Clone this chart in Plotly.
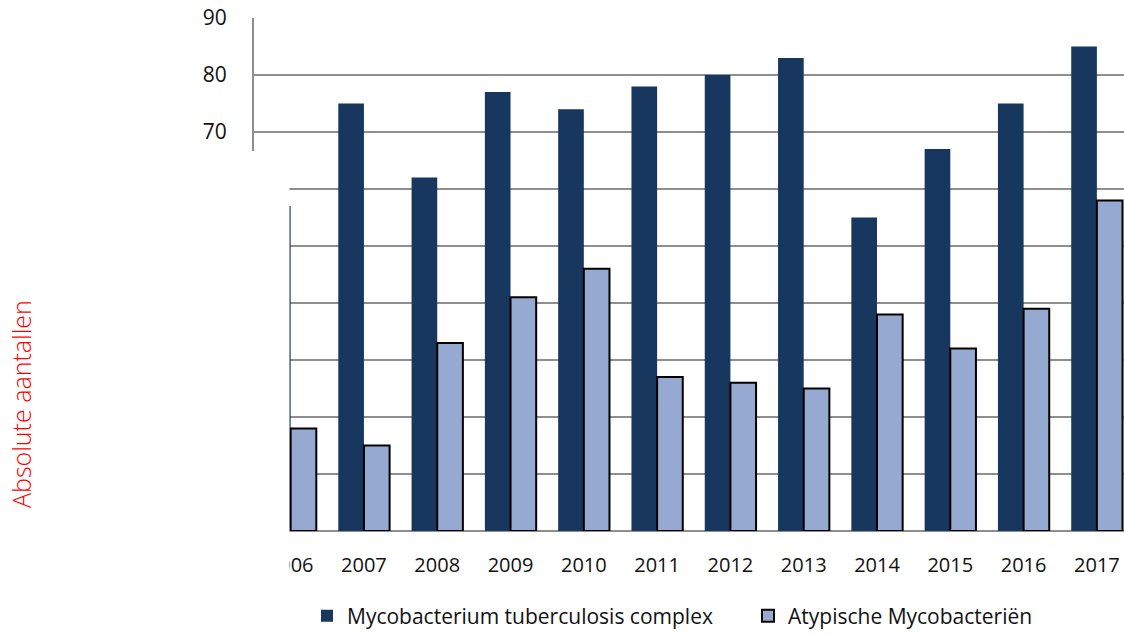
import plotly.graph_objects as go

# Jaartallen en absolute aantallen per jaar
years = ["2006", "2007", "2008", "2009", "2010", "2011",
         "2012", "2013", "2014", "2015", "2016", "2017"]
mtb_complex = [57, 75, 62, 77, 74, 78, 80, 83, 55, 67, 75, 85]
atypical = [18, 15, 33, 41, 46, 27, 26, 25, 38, 32, 39, 58]
y_ticks = [0, 10, 20, 30, 40, 50, 60, 70, 80, 90]

DARK = "#17375E"
LIGHT = "#95A9D1"
GRID = "#8E8E8E"
FONT = "Open Sans"
TEXT = "#111111"

fig = go.Figure()
fig.add_trace(go.Bar(
    x=years, y=mtb_complex, name="Mycobacterium tuberculosis complex",
    marker=dict(color=DARK, line=dict(width=0)),
    legend="legend",
))
fig.add_trace(go.Bar(
    x=years, y=atypical, name="Atypische Mycobacteriën",
    marker=dict(color=LIGHT, line=dict(color="#000000", width=2)),
    legend="legend2",
))

W, H = 1124, 635
L, T, B = 254, 18, 104
plot_w = W - L
plot_h = H - T - B

def px_x(p):
    return (p - L) / plot_w

def px_y(p):
    return (H - B - p) / plot_h

legend_common = dict(
    orientation="h", xref="container", yref="container",
    xanchor="left", y=1 - 616 / H, yanchor="middle",
    font=dict(family=FONT, size=21, color=TEXT),
    bgcolor="rgba(0,0,0,0)",
)

fig.update_layout(
    width=W, height=H,
    margin=dict(l=L, r=0, t=T, b=B),
    paper_bgcolor="white", plot_bgcolor="white",
    barmode="group", bargap=0.30, bargroupgap=0,
    font=dict(family=FONT, size=20, color=TEXT),
    showlegend=True,
    legend=dict(x=307 / W, **legend_common),
    legend2=dict(x=748 / W, **legend_common),
    xaxis=dict(
        type="category", range=[-0.5, 11.37],
        showgrid=False, showline=False, ticks="",
        tickfont=dict(family=FONT, size=20, color=TEXT),
        ticklabelstandoff=20,
    ),
    yaxis=dict(
        range=[0, 90], tickvals=y_ticks,
        showgrid=True, gridcolor=GRID, gridwidth=2,
        showline=True, linecolor=GRID, linewidth=2,
        zeroline=True, zerolinecolor=GRID, zerolinewidth=2,
        ticks="", tickfont=dict(family=FONT, size=21, color=TEXT),
        ticklabelstandoff=21,
    ),
)

# White panel over the lower-left corner of the plot
fig.add_shape(
    type="rect", xref="paper", yref="paper", layer="above",
    x0=px_x(60), x1=px_x(289.5), y0=px_y(590), y1=px_y(151),
    fillcolor="white", line=dict(width=0),
)

# Y-axis title
fig.add_annotation(
    text="Absolute aantallen", textangle=-90,
    xref="paper", yref="paper", x=px_x(21), y=px_y(404),
    xanchor="center", yanchor="middle", showarrow=False,
    font=dict(family=FONT, size=25, weight=300, color="#FF0000"),
)

fig.write_html("out.html")
